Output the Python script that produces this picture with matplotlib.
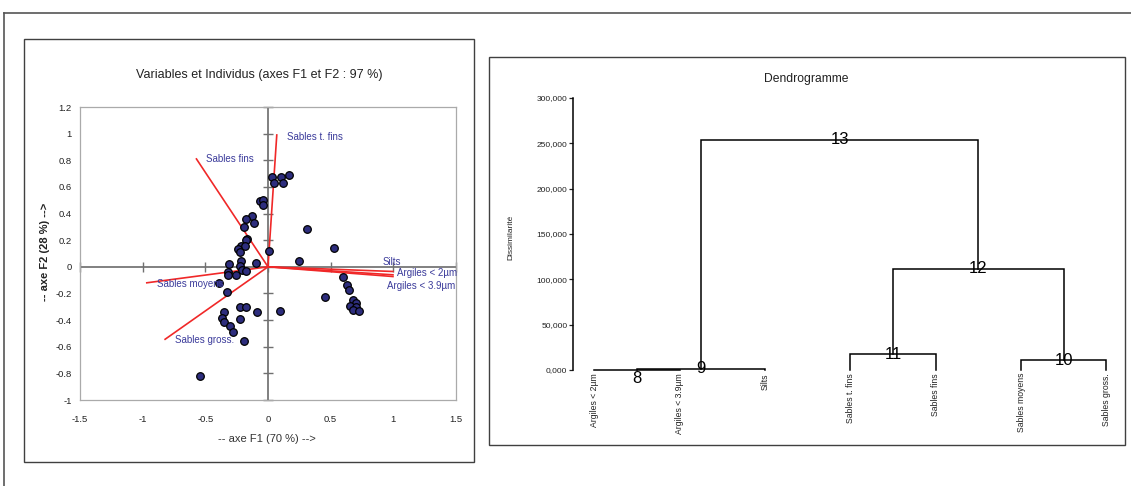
#!/usr/bin/env python3
"""ACP biplot (F1 x F2) + dendrogramme des variables granulometriques."""
import numpy as np
import matplotlib
matplotlib.use("Agg")
import matplotlib.pyplot as plt
from matplotlib.patches import Rectangle
from matplotlib.lines import Line2D

plt.rcParams["font.family"] = ["Liberation Sans", "DejaVu Sans"]

# --- individus (coordonnees F1 / F2) ---
ind_f1 = [0.031, 0.044, 0.100, 0.123, 0.166,
          -0.063, -0.036, -0.039,
          -0.124, -0.174, -0.113, -0.193,
          -0.169, -0.178,
          -0.217, -0.185, -0.238, -0.222,
          0.007, -0.212, -0.313, -0.092, -0.225, -0.206, -0.177,
          -0.321, -0.321, -0.254, -0.387, -0.331,
          -0.222, -0.177, -0.084, 0.092,
          -0.355, -0.366, -0.355, -0.222, -0.300, -0.278, -0.193, -0.539,
          0.312, 0.523, 0.246, 0.600, 0.630, 0.643, 0.451,
          0.675, 0.704, 0.656, 0.701, 0.677, 0.728]
ind_f2 = [0.672, 0.627, 0.672, 0.627, 0.692,
          0.496, 0.504, 0.464,
          0.383, 0.358, 0.326, 0.300,
          0.210, 0.200,
          0.153, 0.153, 0.133, 0.113,
          0.118, 0.045, 0.020, 0.028, 0.003, -0.025, -0.030,
          -0.040, -0.060, -0.058, -0.123, -0.188,
          -0.303, -0.303, -0.338, -0.328,
          -0.338, -0.381, -0.416, -0.393, -0.444, -0.489, -0.556, -0.817,
          0.281, 0.140, 0.045, -0.075, -0.133, -0.173, -0.226,
          -0.246, -0.271, -0.291, -0.298, -0.323, -0.331]

# --- variables (correlations F1 / F2) ---
var_names = ["Sables t. fins", "Sables fins", "Sables moyens", "Sables gross.",
             "Silts", "Argiles < 2µm", "Argiles < 3.9µm"]
var_f1 = [0.070, -0.571, -0.967, -0.821, 0.997, 0.997, 0.997]
var_f2 = [0.990, 0.810, -0.120, -0.544, -0.035, -0.060, -0.073]
# label placement (pixels from the arrow tip)
var_offsets = [(10, -2), (10, 0), (10, -1), (10, -1), (-10, 9), (4, 2), (-6, -9)]

x_ticks = [-1.5, -1, -0.5, 0, 0.5, 1, 1.5]
x_ticklabels = ["-1.5", "-1", "-0.5", "0", "0.5", "1", "1.5"]
y_ticks = [-1, -0.8, -0.6, -0.4, -0.2, 0, 0.2, 0.4, 0.6, 0.8, 1, 1.2]
y_ticklabels = ["-1", "-0.8", "-0.6", "-0.4", "-0.2", "0", "0.2", "0.4",
                "0.6", "0.8", "1", "1.2"]

# --- dendrogramme ---
leaves = ["Argiles < 2µm", "Argiles < 3.9µm", "Silts", "Sables t. fins",
          "Sables fins", "Sables moyens", "Sables gross."]
# node ids 8..13, children refer to leaves 1..7 or earlier nodes
merge_left = [1, 8, 6, 4, 11, 9]
merge_right = [2, 3, 7, 5, 10, 12]
merge_height = [200, 1600, 11000, 17300, 111700, 254000]
d_ticks = [0, 50000, 100000, 150000, 200000, 250000, 300000]
d_ticklabels = ["0,000", "50,000", "100,000", "150,000", "200,000",
                "250,000", "300,000"]

W, H = 1131, 486
def fx(px): return px / W
def fy(py): return 1 - py / H

fig = plt.figure(figsize=(W / 100, H / 100), dpi=100)

# page border + panel frames
fig.add_artist(Line2D([fx(4), 1], [fy(13), fy(13)], color="#555555", lw=1.2,
                      transform=fig.transFigure))
fig.add_artist(Line2D([fx(4), fx(4)], [fy(13), 0], color="#555555", lw=1.2,
                      transform=fig.transFigure))
fig.add_artist(Rectangle((fx(24), fy(462)), (474 - 24) / W, (462 - 39) / H,
                         fill=False, ec="#404040", lw=1.0,
                         transform=fig.transFigure))
fig.add_artist(Rectangle((fx(489), fy(445)), (1125 - 489) / W, (445 - 57) / H,
                         fill=False, ec="#404040", lw=1.0,
                         transform=fig.transFigure))

# ---------------- biplot ----------------
ax1 = fig.add_axes([fx(80), fy(400), (456 - 80) / W, (400 - 107) / H])
ax1.set_xlim(-1.5, 1.5)
ax1.set_ylim(-1, 1.2)
for s in ax1.spines.values():
    s.set_color("#aaaaaa")
    s.set_linewidth(0.9)
ax1.set_xticks(x_ticks)
ax1.set_xticklabels(x_ticklabels)
ax1.set_yticks(y_ticks)
ax1.set_yticklabels(y_ticklabels)
ax1.tick_params(axis="x", length=0, pad=11, labelsize=6.8, colors="#222222")
ax1.tick_params(axis="y", length=0, pad=6, labelsize=6.8, colors="#222222")

ax1.axhline(0, color="#808080", lw=1.4, zorder=1)
ax1.axvline(0, color="#808080", lw=1.4, zorder=1)
ax1.plot(x_ticks, np.zeros(len(x_ticks)), ls="none", marker="|", ms=7,
         mew=1.0, color="#707070", clip_on=False, zorder=1)
ax1.plot(np.zeros(len(y_ticks)), y_ticks, ls="none", marker="_", ms=7,
         mew=1.0, color="#707070", clip_on=False, zorder=1)

for name, x, y, off in zip(var_names, var_f1, var_f2, var_offsets):
    ax1.plot([0, x], [0, y], color="#f02828", lw=1.2, zorder=2)
    ax1.annotate(name, xy=(x, y), xytext=off, textcoords="offset pixels",
                 ha="left", va="center", fontsize=7, color="#3b3b9b",
                 zorder=4, annotation_clip=False)

ax1.scatter(ind_f1, ind_f2, s=30, c="#2d2d7d", edgecolors="black",
            linewidths=0.9, zorder=3)

fig.text(fx(259), fy(75), "Variables et Individus (axes F1 et F2 : 97 %)",
         ha="center", va="center", fontsize=9, color="#222222")
fig.text(fx(267), fy(439), "-- axe F1 (70 %) -->", ha="center", va="center",
         fontsize=8, color="#333333")
fig.text(fx(45), fy(252), "-- axe F2 (28 %) -->", ha="center", va="center",
         rotation=90, fontsize=8, fontweight="bold", color="#222222")

# ---------------- dendrogramme ----------------
ax2 = fig.add_axes([fx(573), fy(370), (1127.7 - 573) / W, (370 - 98) / H])
ax2.set_xlim(0.75, 7.25)
ax2.set_ylim(0, 300000)
for side in ["top", "right", "bottom"]:
    ax2.spines[side].set_visible(False)
ax2.spines["left"].set_linewidth(1.1)
ax2.set_xticks([])
ax2.set_yticks(d_ticks)
ax2.set_yticklabels(d_ticklabels)
ax2.tick_params(axis="y", length=3, width=0.9, pad=1, labelsize=6,
                colors="#222222")

pos = {i + 1: i + 1 for i in range(len(leaves))}
hgt = {i + 1: 0 for i in range(len(leaves))}
for k, (l, r, h) in enumerate(zip(merge_left, merge_right, merge_height)):
    node = len(leaves) + 1 + k
    xl, xr = pos[l], pos[r]
    ax2.plot([xl, xl, xr, xr], [hgt[l], h, h, hgt[r]], color="black",
             lw=1.1, clip_on=False, solid_joinstyle="miter")
    pos[node] = (xl + xr) / 2
    hgt[node] = h
    if h < 1000:
        ax2.annotate(str(node), xy=(pos[node], h), xytext=(0, -1),
                     textcoords="offset pixels", ha="center", va="top",
                     fontsize=12, family=["Liberation Sans Narrow", "Liberation Sans"],
                     annotation_clip=False)
    else:
        ax2.text(pos[node], h, str(node), ha="center", va="center",
                 fontsize=12, family=["Liberation Sans Narrow", "Liberation Sans"],
                 clip_on=False)

for i, name in enumerate(leaves):
    ax2.annotate(name, xy=(i + 1, 0), xytext=(0, -3),
                 textcoords="offset pixels", rotation=90, ha="center",
                 va="top", fontsize=6.2, color="#222222",
                 annotation_clip=False)

fig.text(fx(511), fy(237), "Dissimilarité", rotation=90, ha="center",
         va="center", fontsize=6, color="#222222")
fig.text(fx(806), fy(79), "Dendrogramme", ha="center", va="center",
         fontsize=8.7, color="#222222")

fig.savefig("out.png", dpi=100)
